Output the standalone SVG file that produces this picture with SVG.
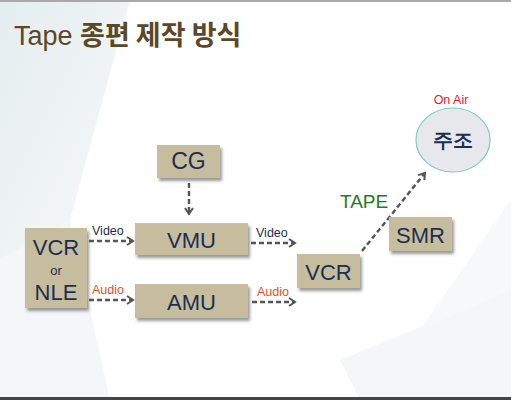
<svg xmlns="http://www.w3.org/2000/svg" width="511" height="400" viewBox="0 0 511 400">
<defs>
<style>
.box{fill:#c6bc9e;filter:url(#sh)}
.lbl{font-family:"Liberation Sans",Arial,sans-serif;fill:#1c2f52;text-anchor:middle}
.big{font-size:22px}
.conn{stroke:#555;stroke-width:2.4;stroke-dasharray:5,3;fill:none;marker-end:url(#ah)}
.small{font-family:"Liberation Sans",Arial,sans-serif;font-size:12.5px}
</style>
<filter id="sh" x="-20%" y="-20%" width="150%" height="160%">
<feDropShadow dx="2" dy="3" stdDeviation="1.5" flood-color="#555" flood-opacity="0.6"/>
</filter>
<marker id="ah" markerWidth="10" markerHeight="10" refX="7" refY="5" orient="auto" markerUnits="userSpaceOnUse">
<path d="M1,1 L7,5 L1,9" fill="none" stroke="#555" stroke-width="2"/>
</marker>
<linearGradient id="bgL" x1="0" y1="0" x2="1" y2="1">
<stop offset="0" stop-color="#dfe9ec"/>
<stop offset="1" stop-color="#f4f7f8"/>
</linearGradient>
</defs>
<rect width="511" height="400" fill="#ffffff"/>
<polygon points="0,0 130,0 70,220 0,260" fill="url(#bgL)" opacity="0.8"/>
<polygon points="0,260 70,220 110,400 0,400" fill="#f4f6f7"/>
<polygon points="340,360 511,290 511,400 360,400" fill="#f5f6f7"/>
<polygon points="511,200 511,290 420,330" fill="#f7f8f9"/>
<rect x="0" y="0" width="511" height="2" fill="#a9a9a9"/>
<rect x="0" y="397" width="511" height="3" fill="#444"/>
<text x="14" y="45" font-family="'Liberation Sans','Noto Sans CJK KR',sans-serif" font-size="27" fill="#5a4828">Tape <tspan font-family="'Noto Sans CJK KR',sans-serif" font-weight="bold">종편 제작 방식</tspan></text>

<g id="connectors">
<line class="conn" x1="189" y1="183" x2="189" y2="214"/>
<line class="conn" x1="89" y1="241" x2="133" y2="241"/>
<line class="conn" x1="89" y1="300" x2="133" y2="300"/>
<line class="conn" x1="251" y1="243" x2="295" y2="243"/>
<line class="conn" x1="252" y1="302" x2="295" y2="302"/>
<line class="conn" x1="362" y1="251" x2="425" y2="173"/>
<text class="small" x="92" y="235" fill="#1c2f52">Video</text>
<text class="small" x="92" y="294" fill="#e0531b">Audio</text>
<text class="small" x="256" y="237" fill="#1c2f52">Video</text>
<text class="small" x="257" y="296" fill="#e0531b">Audio</text>
<text x="340" y="208" font-family="'Liberation Sans',Arial,sans-serif" font-size="19" fill="#1e7d26">TAPE</text>
</g>

<g id="vcr-nle">
<rect class="box" x="25" y="228" width="62" height="80"/>
<text class="lbl big" x="56" y="255">VCR</text>
<text class="lbl" x="56" y="275" font-size="13">or</text>
<text class="lbl big" x="56" y="300">NLE</text>
</g>
<g id="cg">
<rect class="box" x="157" y="145" width="63" height="33"/>
<text class="lbl" x="188.5" y="169" font-size="23">CG</text>
</g>
<g id="vmu">
<rect class="box" x="135" y="223" width="113" height="32"/>
<text class="lbl big" x="191.5" y="248">VMU</text>
</g>
<g id="amu">
<rect class="box" x="135" y="284" width="113" height="34"/>
<text class="lbl big" x="191.5" y="310">AMU</text>
</g>
<g id="vcr">
<rect class="box" x="297" y="254" width="63" height="34"/>
<text class="lbl big" x="328.5" y="280">VCR</text>
</g>
<g id="smr">
<rect class="box" x="389" y="217" width="63" height="34"/>
<text class="lbl big" x="420.5" y="243">SMR</text>
</g>
<g id="mcr">
<ellipse cx="453" cy="140" rx="37" ry="32" fill="#e6e8eb" stroke="#84c9c0" stroke-width="1.2"/>
<text class="lbl" x="453" y="147" font-size="20" font-family="'Noto Sans CJK KR',sans-serif" font-weight="bold">주조</text>
<text x="451" y="104" font-family="'Liberation Sans',Arial,sans-serif" font-size="12.5" fill="#e8202a" text-anchor="middle">On Air</text>
</g>
</svg>
